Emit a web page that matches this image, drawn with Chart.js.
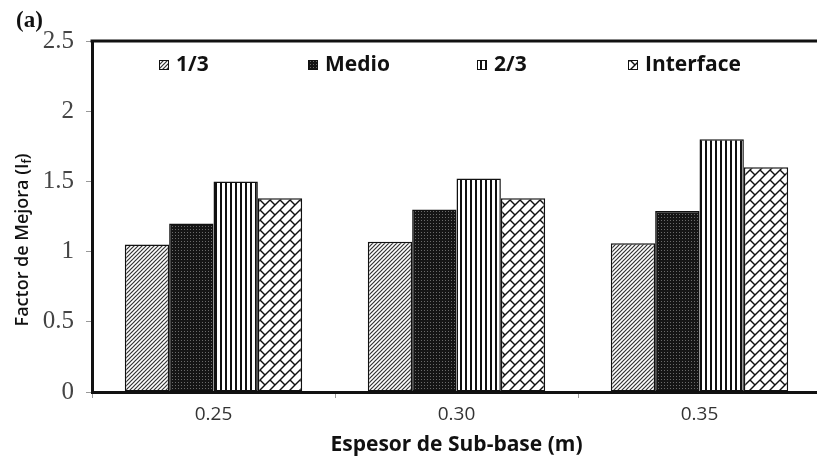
<!DOCTYPE html>
<html>
<head>
<meta charset="utf-8">
<script src="https://cdn.jsdelivr.net/npm/chart.js@4.4.0/dist/chart.umd.min.js"></script>
<style>
  html, body { margin: 0; padding: 0; background: #fff; overflow: hidden; }
  #wrap { position: relative; width: 821px; height: 458px; }
</style>
</head>
<body>
<div id="wrap"><canvas id="grafico" width="821" height="458"></canvas></div>
<script>
// datos
const espesores = ["0.25", "0.30", "0.35"];
const series = ["1/3", "Medio", "2/3", "Interface"];
const valores13 = [1.05, 1.07, 1.06];
const valoresMedio = [1.20, 1.30, 1.29];
const valores23 = [1.50, 1.52, 1.80];
const valoresInterface = [1.38, 1.38, 1.60];
const ticksY = [0, 0.5, 1, 1.5, 2, 2.5];

const legendX = [159, 308, 477, 628];

function nuevoTile(w, h) {
  const c = document.createElement("canvas");
  c.width = w;
  c.height = h;
  const g = c.getContext("2d");
  g.fillStyle = "#fff";
  g.fillRect(0, 0, w, h);
  return { c, g };
}

const patCtx = document.createElement("canvas").getContext("2d");

function patronDiagonal() {
  const { c, g } = nuevoTile(4, 4);
  g.strokeStyle = "#333";
  g.lineWidth = 1.2;
  for (let s = -4; s <= 12; s += 4) {
    g.beginPath();
    g.moveTo(s - 10, 10);
    g.lineTo(s + 10, -10);
    g.stroke();
  }
  return patCtx.createPattern(c, "repeat");
}

function patronMedio() {
  const { c, g } = nuevoTile(3, 3);
  g.fillStyle = "#151515";
  g.fillRect(0, 0, 3, 3);
  g.fillStyle = "#6a6a6a";
  g.fillRect(1, 1, 1, 1);
  return patCtx.createPattern(c, "repeat");
}

function patronVertical() {
  const { c, g } = nuevoTile(5, 1);
  g.fillStyle = "#111";
  g.fillRect(0, 0, 2, 1);
  return patCtx.createPattern(c, "repeat");
}

function patronLadrillo() {
  const P = 10;
  const T = 2 * P;
  const { c, g } = nuevoTile(T, T);
  g.strokeStyle = "#111";
  g.lineWidth = 1.4;
  // lineas "/" : x + y = s
  for (let s = -T; s <= 3 * T; s += P) {
    g.beginPath();
    g.moveTo(s - 2 * T, 2 * T);
    g.lineTo(s + 2 * T, -2 * T);
    g.stroke();
  }
  // conectores "\" entre filas, alternados
  for (let r = -4; r <= 6; r++) {
    const off = Math.abs(r) % 2 === 1 ? P : 0;
    for (let d = off - 3 * T; d <= 3 * T; d += T) {
      const s1 = r * P, s2 = r * P + P;
      g.beginPath();
      g.moveTo((s1 + d) / 2, (s1 - d) / 2);
      g.lineTo((s2 + d) / 2, (s2 - d) / 2);
      g.stroke();
    }
  }
  return patCtx.createPattern(c, "repeat");
}

const rellenos = [patronDiagonal(), patronMedio(), patronVertical(), patronLadrillo()];
const valores = [valores13, valoresMedio, valores23, valoresInterface];

const datasets = series.map((nombre, i) => ({
  label: nombre,
  data: valores[i],
  backgroundColor: rellenos[i],
  borderColor: "#111",
  borderWidth: 1.5,
  borderSkipped: false,
  categoryPercentage: 0.73,
  barPercentage: 1.0,
}));

const extras = {
  id: "extras",
  afterDraw(chart) {
    const ctx = chart.ctx;
    const area = chart.chartArea;
    ctx.save();

    // borde superior del area
    ctx.strokeStyle = "#111";
    ctx.lineWidth = 3;
    ctx.beginPath();
    ctx.moveTo(area.left - 1.5, area.top);
    ctx.lineTo(area.right + 2, area.top);
    ctx.stroke();

    // leyenda
    ctx.font = "bold 21px 'Open Sans'";
    ctx.textBaseline = "middle";
    ctx.textAlign = "left";
    series.forEach((nombre, i) => {
      const x = legendX[i];
      ctx.fillStyle = rellenos[i];
      ctx.fillRect(x, 60, 10, 10);
      ctx.strokeStyle = "#111";
      ctx.lineWidth = 1;
      ctx.strokeRect(x + 0.5, 60.5, 9, 9);
      ctx.fillStyle = "#111";
      ctx.fillText(nombre, x + 17, 65);
    });

    // titulo eje y con subindice
    ctx.translate(22, 240);
    ctx.rotate(-Math.PI / 2);
    ctx.fillStyle = "#111";
    const t1 = "Factor de Mejora (I";
    const t2 = "f";
    const t3 = ")";
    ctx.font = "600 18px 'Open Sans'";
    const w1 = ctx.measureText(t1).width;
    const w3 = ctx.measureText(t3).width;
    ctx.font = "600 12px 'Open Sans'";
    const w2 = ctx.measureText(t2).width;
    const total = w1 + w2 + w3;
    const x0 = -total / 2;
    ctx.textAlign = "left";
    ctx.textBaseline = "alphabetic";
    ctx.font = "600 18px 'Open Sans'";
    ctx.fillText(t1, x0, 6);
    ctx.font = "600 12px 'Open Sans'";
    ctx.fillText(t2, x0 + w1, 9);
    ctx.font = "600 18px 'Open Sans'";
    ctx.fillText(t3, x0 + w1 + w2, 6);
    ctx.setTransform(1, 0, 0, 1, 0, 0);

    // etiqueta (a)
    ctx.font = "bold 23px 'Liberation Serif'";
    ctx.textBaseline = "middle";
    ctx.textAlign = "left";
    ctx.fillStyle = "#111";
    ctx.fillText("(a)", 16, 21);

    ctx.restore();
  },
};

new Chart(document.getElementById("grafico"), {
  type: "bar",
  data: { labels: espesores, datasets: datasets },
  options: {
    responsive: false,
    animation: false,
    devicePixelRatio: 1,
    layout: { padding: { top: 41, left: 0, right: 0, bottom: 0 } },
    plugins: {
      legend: { display: false },
      tooltip: { enabled: false },
    },
    scales: {
      x: {
        grid: { display: true, drawOnChartArea: false, drawTicks: true, tickLength: 6, color: "#999" },
        border: { display: true, color: "#111", width: 3 },
        ticks: { font: { family: "'Open Sans'", size: 19 }, color: "#333", padding: 5 },
        title: {
          display: true,
          text: "Espesor de Sub-base (m)",
          font: { family: "'Open Sans'", size: 21, weight: "bold" },
          color: "#111",
          padding: { top: 0, bottom: 0 },
        },
        afterFit(scale) { scale.height = 66; },
      },
      y: {
        min: 0,
        max: 2.5,
        grid: { display: true, drawOnChartArea: false, drawTicks: true, tickLength: 6, color: "#999" },
        border: { display: true, color: "#111", width: 3 },
        ticks: {
          font: { family: "'Liberation Serif'", size: 25 },
          color: "#444",
          padding: 12,
          callback: (v) => v.toString(),
        },
        afterBuildTicks(scale) { scale.ticks = ticksY.map((v) => ({ value: v })); },
        afterFit(scale) { scale.width = 92; },
      },
    },
  },
  plugins: [extras],
});
</script>
</body>
</html>
